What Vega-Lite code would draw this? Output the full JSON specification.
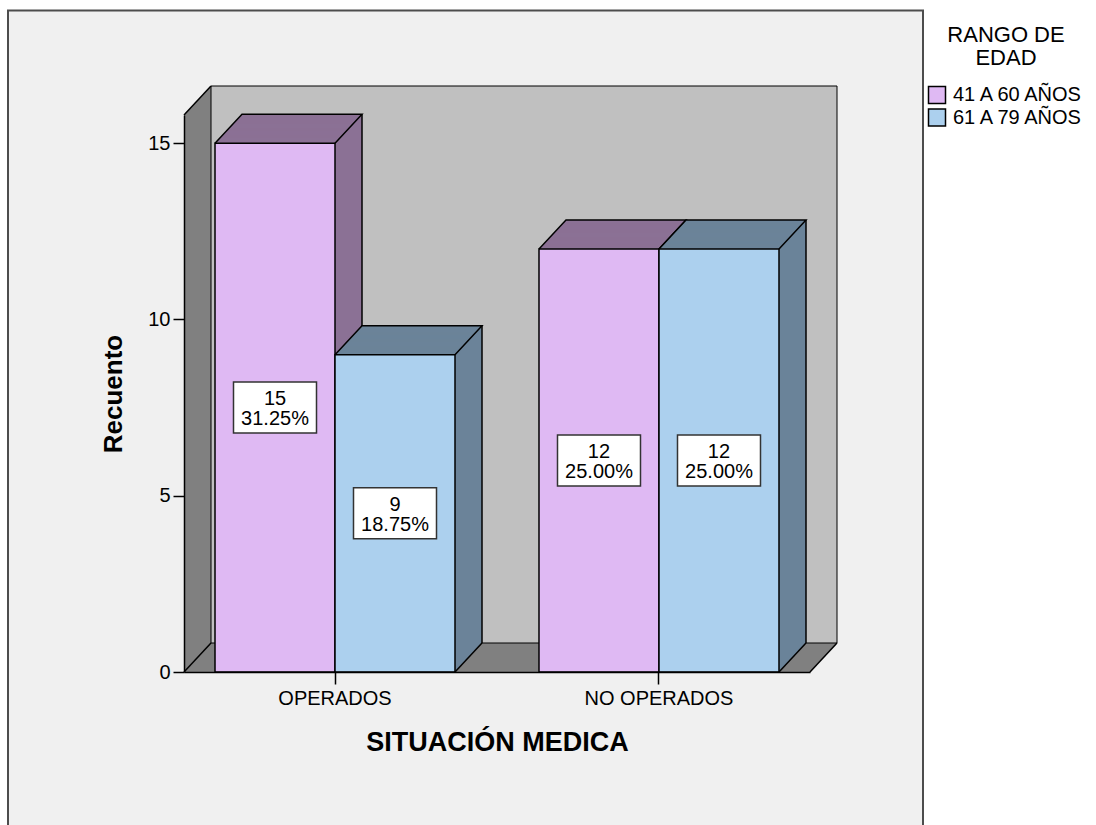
{
  "$schema": "https://vega.github.io/schema/vega-lite/v6.json",
  "width": 626,
  "height": 557,
  "autosize": {"type": "none"},
  "padding": {"left": 184, "top": 115, "right": 286, "bottom": 153},
  "background": "white",
  "config": {
    "font": "Liberation Sans",
    "view": {"stroke": null}
  },
  "data": {
    "values": [
      {"situacion": "OPERADOS", "rango": "41 A 60 AÑOS", "recuento": 15, "porcentaje": 0.3125},
      {"situacion": "OPERADOS", "rango": "61 A 79 AÑOS", "recuento": 9, "porcentaje": 0.1875},
      {"situacion": "NO OPERADOS", "rango": "41 A 60 AÑOS", "recuento": 12, "porcentaje": 0.25},
      {"situacion": "NO OPERADOS", "rango": "61 A 79 AÑOS", "recuento": 12, "porcentaje": 0.25}
    ]
  },
  "resolve": {"scale": {"y": "independent"}},
  "layer": [
    {
      "data": {"values": [{}]},
      "mark": {"type": "rect", "fill": "#f0f0f0", "stroke": "#4d4d4d", "strokeWidth": 2, "xOffset": -176, "x2Offset": 113, "yOffset": -104.5, "y2Offset": 170},
      "encoding": {"x": {"value": 0}, "x2": {"value": "width"}, "y": {"value": 0}, "y2": {"value": "height"}}
    },
    {
      "data": {"values": [{}]},
      "mark": {"type": "rect", "fill": "#808080"},
      "encoding": {"x": {"value": 0}, "x2": {"value": "width"}, "y": {"value": 0}, "y2": {"value": "height"}}
    },
    {
      "data": {"values": [{}]},
      "mark": {"type": "point", "shape": "M0,0L27,-29L27,1L0,1Z", "size": 4, "filled": true, "fill": "#808080", "strokeWidth": 0, "opacity": 1},
      "encoding": {"x": {"value": 0}, "y": {"value": 0}}
    },
    {
      "data": {"values": [{}]},
      "mark": {"type": "point", "shape": "M0,0L27,-29L-1,-29L-1,0Z", "size": 4, "filled": true, "fill": "#808080", "strokeWidth": 0, "opacity": 1},
      "encoding": {"x": {"value": "width"}, "y": {"value": "height"}}
    },
    {
      "data": {"values": [{}]},
      "mark": {"type": "rect", "fill": "#c0c0c0", "stroke": "black", "strokeWidth": 1, "xOffset": 27, "x2Offset": 27, "yOffset": -29, "y2Offset": -29},
      "encoding": {"x": {"value": 0}, "x2": {"value": "width"}, "y": {"value": 0}, "y2": {"value": "height"}}
    },
    {
      "data": {"values": [{}]},
      "mark": {"type": "point", "shape": "M0,0L27,-29", "size": 4, "filled": false, "stroke": "black", "strokeWidth": 1.5, "opacity": 1},
      "encoding": {"x": {"value": 0}, "y": {"value": 0}}
    },
    {
      "data": {"values": [{}]},
      "mark": {"type": "point", "shape": "M0,0L27,-29", "size": 4, "filled": false, "stroke": "black", "strokeWidth": 1.5, "opacity": 1},
      "encoding": {"x": {"value": 0}, "y": {"value": "height"}}
    },
    {
      "data": {"values": [{}]},
      "mark": {"type": "point", "shape": "M0,0L27,-29", "size": 4, "filled": false, "stroke": "black", "strokeWidth": 1.5, "opacity": 1},
      "encoding": {"x": {"value": "width"}, "y": {"value": "height"}}
    },
    {
      "encoding": {
        "x": {
          "field": "situacion", "type": "nominal", "sort": ["OPERADOS", "NO OPERADOS"], "title": "SITUACIÓN MEDICA",
          "scale": {"paddingInner": 0.259259, "paddingOuter": 0.09568},
          "axis": {"labelAngle": 0, "labelFontSize": 20, "labelColor": "black", "tickSize": 12, "tickColor": "black", "tickWidth": 1.5, "labelPadding": 4, "domainColor": "black", "domainWidth": 1.5, "titleFontSize": 27, "titleFontWeight": "bold", "titleColor": "black", "titlePadding": 21, "zindex": 1}
        },
        "y": {
          "field": "recuento", "type": "quantitative", "title": "Recuento",
          "scale": {"domain": [0, 15.8], "nice": false},
          "axis": {"values": [0, 5, 10, 15], "grid": false, "labelFontSize": 20, "labelColor": "black", "tickSize": 11, "tickColor": "black", "tickWidth": 1.5, "labelPadding": 3, "domainColor": "black", "domainWidth": 1.5, "titleFontSize": 26, "titleFontWeight": "bold", "titleColor": "black", "titlePadding": 21, "zindex": 1}
        }
      },
      "layer": [
        {
          "transform": [{"filter": "datum.rango === '41 A 60 AÑOS'"}],
          "layer": [
            {"mark": {"type": "bar", "width": 120, "color": "#8b7195", "xOffset": -33, "yOffset": -29, "y2Offset": -29}},
            {"mark": {"type": "bar", "width": 120, "color": "#8b7195", "xOffset": -34, "yOffset": -27.93, "y2Offset": -27.93}},
            {"mark": {"type": "bar", "width": 120, "color": "#8b7195", "xOffset": -35, "yOffset": -26.85, "y2Offset": -26.85}},
            {"mark": {"type": "bar", "width": 120, "color": "#8b7195", "xOffset": -36, "yOffset": -25.78, "y2Offset": -25.78}},
            {"mark": {"type": "bar", "width": 120, "color": "#8b7195", "xOffset": -37, "yOffset": -24.7, "y2Offset": -24.7}},
            {"mark": {"type": "bar", "width": 120, "color": "#8b7195", "xOffset": -38, "yOffset": -23.63, "y2Offset": -23.63}},
            {"mark": {"type": "bar", "width": 120, "color": "#8b7195", "xOffset": -39, "yOffset": -22.56, "y2Offset": -22.56}},
            {"mark": {"type": "bar", "width": 120, "color": "#8b7195", "xOffset": -40, "yOffset": -21.48, "y2Offset": -21.48}},
            {"mark": {"type": "bar", "width": 120, "color": "#8b7195", "xOffset": -41, "yOffset": -20.41, "y2Offset": -20.41}},
            {"mark": {"type": "bar", "width": 120, "color": "#8b7195", "xOffset": -42, "yOffset": -19.33, "y2Offset": -19.33}},
            {"mark": {"type": "bar", "width": 120, "color": "#8b7195", "xOffset": -43, "yOffset": -18.26, "y2Offset": -18.26}},
            {"mark": {"type": "bar", "width": 120, "color": "#8b7195", "xOffset": -44, "yOffset": -17.19, "y2Offset": -17.19}},
            {"mark": {"type": "bar", "width": 120, "color": "#8b7195", "xOffset": -45, "yOffset": -16.11, "y2Offset": -16.11}},
            {"mark": {"type": "bar", "width": 120, "color": "#8b7195", "xOffset": -46, "yOffset": -15.04, "y2Offset": -15.04}},
            {"mark": {"type": "bar", "width": 120, "color": "#8b7195", "xOffset": -47, "yOffset": -13.96, "y2Offset": -13.96}},
            {"mark": {"type": "bar", "width": 120, "color": "#8b7195", "xOffset": -48, "yOffset": -12.89, "y2Offset": -12.89}},
            {"mark": {"type": "bar", "width": 120, "color": "#8b7195", "xOffset": -49, "yOffset": -11.81, "y2Offset": -11.81}},
            {"mark": {"type": "bar", "width": 120, "color": "#8b7195", "xOffset": -50, "yOffset": -10.74, "y2Offset": -10.74}},
            {"mark": {"type": "bar", "width": 120, "color": "#8b7195", "xOffset": -51, "yOffset": -9.67, "y2Offset": -9.67}},
            {"mark": {"type": "bar", "width": 120, "color": "#8b7195", "xOffset": -52, "yOffset": -8.59, "y2Offset": -8.59}},
            {"mark": {"type": "bar", "width": 120, "color": "#8b7195", "xOffset": -53, "yOffset": -7.52, "y2Offset": -7.52}},
            {"mark": {"type": "bar", "width": 120, "color": "#8b7195", "xOffset": -54, "yOffset": -6.44, "y2Offset": -6.44}},
            {"mark": {"type": "bar", "width": 120, "color": "#8b7195", "xOffset": -55, "yOffset": -5.37, "y2Offset": -5.37}},
            {"mark": {"type": "bar", "width": 120, "color": "#8b7195", "xOffset": -56, "yOffset": -4.3, "y2Offset": -4.3}},
            {"mark": {"type": "bar", "width": 120, "color": "#8b7195", "xOffset": -57, "yOffset": -3.22, "y2Offset": -3.22}},
            {"mark": {"type": "bar", "width": 120, "color": "#8b7195", "xOffset": -58, "yOffset": -2.15, "y2Offset": -2.15}},
            {"mark": {"type": "bar", "width": 120, "color": "#8b7195", "xOffset": -59, "yOffset": -1.07, "y2Offset": -1.07}},
            {
              "mark": {"type": "bar", "width": 120, "xOffset": -60, "stroke": "black", "strokeWidth": 1.5},
              "encoding": {
                "color": {
                  "field": "rango", "type": "nominal",
                  "scale": {"domain": ["41 A 60 AÑOS", "61 A 79 AÑOS"], "range": ["#dfb9f3", "#acd0ee"]},
                  "legend": {"title": ["RANGO DE", "EDAD"], "orient": "none", "legendX": 743, "legendY": -90, "padding": 0, "titleFontSize": 22, "titleFontWeight": "normal", "titleColor": "black", "titleAlign": "center", "titleAnchor": "middle", "titleLineHeight": 23, "titlePadding": 15, "labelFontSize": 20, "labelColor": "black", "labelOffset": 6, "symbolType": "square", "symbolSize": 289, "symbolStrokeColor": "black", "symbolStrokeWidth": 1.5, "symbolOpacity": 1, "rowPadding": -1.5}
                }
              }
            },
            {"mark": {"type": "point", "shape": "M-60,0L-33,-29L87,-29L60,0", "size": 4, "filled": false, "stroke": "black", "strokeWidth": 1.5, "opacity": 1, "xOffset": -60}},
            {"mark": {"type": "rule", "color": "black", "strokeWidth": 1.5, "xOffset": 27, "yOffset": -29, "y2Offset": -29}, "encoding": {"y2": {"datum": 0}}},
            {"mark": {"type": "point", "shape": "M60,0L87,-29", "size": 4, "filled": false, "stroke": "black", "strokeWidth": 1.5, "opacity": 1, "xOffset": -60}, "encoding": {"y": {"datum": 0}}}
          ]
        },
        {
          "transform": [{"filter": "datum.rango === '61 A 79 AÑOS'"}],
          "layer": [
            {"mark": {"type": "bar", "width": 120, "color": "#6b8399", "xOffset": 87, "yOffset": -29, "y2Offset": -29}},
            {"mark": {"type": "bar", "width": 120, "color": "#6b8399", "xOffset": 86, "yOffset": -27.93, "y2Offset": -27.93}},
            {"mark": {"type": "bar", "width": 120, "color": "#6b8399", "xOffset": 85, "yOffset": -26.85, "y2Offset": -26.85}},
            {"mark": {"type": "bar", "width": 120, "color": "#6b8399", "xOffset": 84, "yOffset": -25.78, "y2Offset": -25.78}},
            {"mark": {"type": "bar", "width": 120, "color": "#6b8399", "xOffset": 83, "yOffset": -24.7, "y2Offset": -24.7}},
            {"mark": {"type": "bar", "width": 120, "color": "#6b8399", "xOffset": 82, "yOffset": -23.63, "y2Offset": -23.63}},
            {"mark": {"type": "bar", "width": 120, "color": "#6b8399", "xOffset": 81, "yOffset": -22.56, "y2Offset": -22.56}},
            {"mark": {"type": "bar", "width": 120, "color": "#6b8399", "xOffset": 80, "yOffset": -21.48, "y2Offset": -21.48}},
            {"mark": {"type": "bar", "width": 120, "color": "#6b8399", "xOffset": 79, "yOffset": -20.41, "y2Offset": -20.41}},
            {"mark": {"type": "bar", "width": 120, "color": "#6b8399", "xOffset": 78, "yOffset": -19.33, "y2Offset": -19.33}},
            {"mark": {"type": "bar", "width": 120, "color": "#6b8399", "xOffset": 77, "yOffset": -18.26, "y2Offset": -18.26}},
            {"mark": {"type": "bar", "width": 120, "color": "#6b8399", "xOffset": 76, "yOffset": -17.19, "y2Offset": -17.19}},
            {"mark": {"type": "bar", "width": 120, "color": "#6b8399", "xOffset": 75, "yOffset": -16.11, "y2Offset": -16.11}},
            {"mark": {"type": "bar", "width": 120, "color": "#6b8399", "xOffset": 74, "yOffset": -15.04, "y2Offset": -15.04}},
            {"mark": {"type": "bar", "width": 120, "color": "#6b8399", "xOffset": 73, "yOffset": -13.96, "y2Offset": -13.96}},
            {"mark": {"type": "bar", "width": 120, "color": "#6b8399", "xOffset": 72, "yOffset": -12.89, "y2Offset": -12.89}},
            {"mark": {"type": "bar", "width": 120, "color": "#6b8399", "xOffset": 71, "yOffset": -11.81, "y2Offset": -11.81}},
            {"mark": {"type": "bar", "width": 120, "color": "#6b8399", "xOffset": 70, "yOffset": -10.74, "y2Offset": -10.74}},
            {"mark": {"type": "bar", "width": 120, "color": "#6b8399", "xOffset": 69, "yOffset": -9.67, "y2Offset": -9.67}},
            {"mark": {"type": "bar", "width": 120, "color": "#6b8399", "xOffset": 68, "yOffset": -8.59, "y2Offset": -8.59}},
            {"mark": {"type": "bar", "width": 120, "color": "#6b8399", "xOffset": 67, "yOffset": -7.52, "y2Offset": -7.52}},
            {"mark": {"type": "bar", "width": 120, "color": "#6b8399", "xOffset": 66, "yOffset": -6.44, "y2Offset": -6.44}},
            {"mark": {"type": "bar", "width": 120, "color": "#6b8399", "xOffset": 65, "yOffset": -5.37, "y2Offset": -5.37}},
            {"mark": {"type": "bar", "width": 120, "color": "#6b8399", "xOffset": 64, "yOffset": -4.3, "y2Offset": -4.3}},
            {"mark": {"type": "bar", "width": 120, "color": "#6b8399", "xOffset": 63, "yOffset": -3.22, "y2Offset": -3.22}},
            {"mark": {"type": "bar", "width": 120, "color": "#6b8399", "xOffset": 62, "yOffset": -2.15, "y2Offset": -2.15}},
            {"mark": {"type": "bar", "width": 120, "color": "#6b8399", "xOffset": 61, "yOffset": -1.07, "y2Offset": -1.07}},
            {
              "mark": {"type": "bar", "width": 120, "xOffset": 60, "stroke": "black", "strokeWidth": 1.5},
              "encoding": {
                "color": {
                  "field": "rango", "type": "nominal",
                  "scale": {"domain": ["41 A 60 AÑOS", "61 A 79 AÑOS"], "range": ["#dfb9f3", "#acd0ee"]},
                  "legend": {"title": ["RANGO DE", "EDAD"], "orient": "none", "legendX": 743, "legendY": -90, "padding": 0, "titleFontSize": 22, "titleFontWeight": "normal", "titleColor": "black", "titleAlign": "center", "titleAnchor": "middle", "titleLineHeight": 23, "titlePadding": 15, "labelFontSize": 20, "labelColor": "black", "labelOffset": 6, "symbolType": "square", "symbolSize": 289, "symbolStrokeColor": "black", "symbolStrokeWidth": 1.5, "symbolOpacity": 1, "rowPadding": -1.5}
                }
              }
            },
            {"mark": {"type": "point", "shape": "M-60,0L-33,-29L87,-29L60,0", "size": 4, "filled": false, "stroke": "black", "strokeWidth": 1.5, "opacity": 1, "xOffset": 60}},
            {"mark": {"type": "rule", "color": "black", "strokeWidth": 1.5, "xOffset": 147, "yOffset": -29, "y2Offset": -29}, "encoding": {"y2": {"datum": 0}}},
            {"mark": {"type": "point", "shape": "M60,0L87,-29", "size": 4, "filled": false, "stroke": "black", "strokeWidth": 1.5, "opacity": 1, "xOffset": 60}, "encoding": {"y": {"datum": 0}}}
          ]
        }
      ]
    },
    {
      "encoding": {
        "x": {
          "field": "situacion", "type": "nominal", "sort": ["OPERADOS", "NO OPERADOS"], "title": "SITUACIÓN MEDICA",
          "scale": {"paddingInner": 0.259259, "paddingOuter": 0.09568},
          "axis": {"labelAngle": 0, "labelFontSize": 20, "labelColor": "black", "tickSize": 12, "tickColor": "black", "tickWidth": 1.5, "labelPadding": 4, "domainColor": "black", "domainWidth": 1.5, "titleFontSize": 27, "titleFontWeight": "bold", "titleColor": "black", "titlePadding": 21, "zindex": 1}
        },
        "y": {"field": "recuento", "type": "quantitative", "scale": {"domain": [0, 31.6], "nice": false}, "axis": null}
      },
      "layer": [
        {
          "transform": [{"filter": "datum.rango === '41 A 60 AÑOS'"}],
          "layer": [
            {"mark": {"type": "point", "shape": "M-41.5,-25.5H41.5V25.5H-41.5Z", "size": 4, "filled": true, "fill": "white", "stroke": "#333333", "strokeWidth": 1.5, "opacity": 1, "xOffset": -60}},
            {"mark": {"type": "text", "fontSize": 20, "color": "black", "baseline": "middle", "xOffset": -60, "dy": -8.5}, "encoding": {"text": {"field": "recuento", "type": "quantitative"}}},
            {"mark": {"type": "text", "fontSize": 20, "color": "black", "baseline": "middle", "xOffset": -60, "dy": 11.5}, "encoding": {"text": {"field": "porcentaje", "type": "quantitative", "format": ".2%"}}}
          ]
        },
        {
          "transform": [{"filter": "datum.rango === '61 A 79 AÑOS'"}],
          "layer": [
            {"mark": {"type": "point", "shape": "M-41.5,-25.5H41.5V25.5H-41.5Z", "size": 4, "filled": true, "fill": "white", "stroke": "#333333", "strokeWidth": 1.5, "opacity": 1, "xOffset": 60}},
            {"mark": {"type": "text", "fontSize": 20, "color": "black", "baseline": "middle", "xOffset": 60, "dy": -8.5}, "encoding": {"text": {"field": "recuento", "type": "quantitative"}}},
            {"mark": {"type": "text", "fontSize": 20, "color": "black", "baseline": "middle", "xOffset": 60, "dy": 11.5}, "encoding": {"text": {"field": "porcentaje", "type": "quantitative", "format": ".2%"}}}
          ]
        }
      ]
    }
  ]
}
